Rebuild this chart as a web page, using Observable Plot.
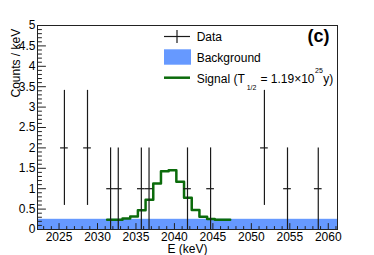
<!DOCTYPE html>
<html>
<head>
<meta charset="utf-8">
<script src="https://cdn.jsdelivr.net/npm/d3@7"></script>
<script src="https://cdn.jsdelivr.net/npm/@observablehq/plot@0.6"></script>
<style>
  html, body { margin: 0; padding: 0; background: white; }
  #chart { width: 374px; height: 255px; }
</style>
</head>
<body>
<div id="chart"></div>
<script>
// ---- data ----
const xDomain = [2022.2, 2061.2];
const yDomain = [0, 5];
const xMajorTicks = [2025, 2030, 2035, 2040, 2045, 2050, 2055, 2060];
const xMinorTicks = [2023, 2024, 2026, 2027, 2028, 2029, 2031, 2032, 2033, 2034, 2036, 2037, 2038, 2039, 2041, 2042, 2043, 2044, 2046, 2047, 2048, 2049, 2051, 2052, 2053, 2054, 2056, 2057, 2058, 2059, 2061];
const yMajorTicks = [0, 0.5, 1, 1.5, 2, 2.5, 3, 3.5, 4, 4.5, 5];
const yMinorTicks = [0.1,0.2,0.3,0.4,0.6,0.7,0.8,0.9,1.1,1.2,1.3,1.4,1.6,1.7,1.8,1.9,2.1,2.2,2.3,2.4,2.6,2.7,2.8,2.9,3.1,3.2,3.3,3.4,3.6,3.7,3.8,3.9,4.1,4.2,4.3,4.4,4.6,4.7,4.8,4.9];

// Data points (counts / keV)
const dataE      = [2025.7, 2028.7, 2031.7, 2032.7, 2035.7, 2036.7, 2041.7, 2044.7, 2051.7, 2054.7, 2058.7];
const dataCounts = [2, 2, 1, 1, 1, 1, 1, 1, 2, 1, 1];
const dataErrLo  = [1.41, 1.41, 1, 1, 1, 1, 1, 1, 1.41, 1, 1];
const dataErrHi  = [1.41, 1.41, 1, 1, 1, 1, 1, 1, 1.41, 1, 1];
const dataHalfWidth = 0.5;

// Background level
const backgroundLevel = 0.25;

// Signal histogram (bin left edges, values)
const sigEdges  = [2031.25, 2032.25, 2033.25, 2034.25, 2035.25, 2036.25, 2037.25, 2038.25, 2039.25, 2040.25, 2041.25, 2042.25, 2043.25, 2044.25, 2045.25, 2046.25, 2047.25];
const sigValues = [0.24, 0.24, 0.27, 0.32, 0.47, 0.73, 1.13, 1.43, 1.45, 1.17, 0.78, 0.48, 0.31, 0.26, 0.24, 0.24];

// Legend labels
const legendLabels = ["Data", "Background", "Signal"];

// ---- build tables ----
const points = dataE.map((e, i) => ({e, c: dataCounts[i], lo: dataCounts[i] - dataErrLo[i], hi: dataCounts[i] + dataErrHi[i]}));
const signal = sigEdges.map((x, i) => ({x, y: i < sigValues.length ? sigValues[i] : sigValues[sigValues.length - 1]}));

const blue = "#6699ff";
const green = "#0b6b0b";
const tickShape = { draw(ctx, l) { ctx.moveTo(0, 0); ctx.lineTo(0, -l); } };

const plot = Plot.plot({
  width: 374,
  height: 255,
  marginLeft: 37,
  marginRight: 37,
  marginTop: 25,
  marginBottom: 26,
  style: { fontSize: "12px", fontFamily: "'Liberation Sans', Arial, sans-serif", background: "white", color: "black" },
  x: { domain: xDomain, label: null },
  y: { domain: yDomain, label: null },
  marks: [
    Plot.rect([{x1: xDomain[0], x2: xDomain[1], y1: 0, y2: backgroundLevel}], {x1: "x1", x2: "x2", y1: "y1", y2: "y2", fill: blue}),
    Plot.line(signal, {x: "x", y: "y", curve: "step-after", stroke: green, strokeWidth: 2.5}),
    Plot.ruleX(points, {x: "e", y1: "lo", y2: "hi", stroke: "#1a1a1a", strokeWidth: 1.2}),
    Plot.ruleY(points, {y: "c", x1: d => d.e - dataHalfWidth, x2: d => d.e + dataHalfWidth, stroke: "#1a1a1a", strokeWidth: 1.2}),
    // inward ticks
    Plot.vector(xMajorTicks, {x: d => d, y: yDomain[0], length: 6, rotate: 0, anchor: "start", shape: tickShape, stroke: "#222", strokeWidth: 1}),
    Plot.vector(xMinorTicks, {x: d => d, y: yDomain[0], length: 3, rotate: 0, anchor: "start", shape: tickShape, stroke: "#222", strokeWidth: 1}),
    Plot.vector(yMajorTicks, {x: xDomain[0], y: d => d, length: 8, rotate: 90, anchor: "start", shape: tickShape, stroke: "#222", strokeWidth: 1}),
    Plot.vector(yMinorTicks, {x: xDomain[0], y: d => d, length: 4, rotate: 90, anchor: "start", shape: tickShape, stroke: "#222", strokeWidth: 1}),
    Plot.axisX({ticks: xMajorTicks, tickSize: 0, tickPadding: 3, tickFormat: d => String(d), label: null, fontSize: 12}),
    Plot.axisY({ticks: yMajorTicks, tickSize: 0, tickPadding: 2, tickFormat: d => String(d), label: null, fontSize: 12}),
    Plot.text(["E (keV)"], {frameAnchor: "bottom", dy: 23.7, lineAnchor: "bottom", fontSize: 12}),
    Plot.text(["Counts / keV"], {frameAnchor: "top-left", rotate: -90, textAnchor: "end", dx: -25.8, dy: 3.3, fontSize: 12}),
    Plot.text(["(c)"], {frameAnchor: "top-right", dx: -8, dy: 16.2, textAnchor: "end", lineAnchor: "bottom", fontWeight: "bold", fontSize: 18}),
    Plot.frame({stroke: "#222"})
  ]
});

document.getElementById("chart").appendChild(plot);

// ---- legend ----
const svg = d3.select(plot);
const lg = svg.append("g")
  .attr("font-family", "'Liberation Sans', Arial, sans-serif")
  .attr("font-size", 12)
  .attr("text-anchor", "start")
  .attr("fill", "black");
// Data
lg.append("line").attr("x1", 164).attr("x2", 190).attr("y1", 36.5).attr("y2", 36.5).attr("stroke", "#1a1a1a").attr("stroke-width", 1.2);
lg.append("line").attr("x1", 177).attr("x2", 177).attr("y1", 30).attr("y2", 43).attr("stroke", "#1a1a1a").attr("stroke-width", 1.2);
lg.append("text").attr("x", 196.7).attr("y", 40.7).attr("text-anchor", "start").text(legendLabels[0]);
// Background
lg.append("rect").attr("x", 164).attr("y", 49.3).attr("width", 27).attr("height", 15.4).attr("fill", blue);
lg.append("text").attr("x", 196.7).attr("y", 62.3).attr("text-anchor", "start").text(legendLabels[1]);
// Signal
lg.append("line").attr("x1", 164).attr("x2", 190).attr("y1", 77.7).attr("y2", 77.7).attr("stroke", green).attr("stroke-width", 2.5);
const st = lg.append("text").attr("x", 196.7).attr("y", 83).attr("text-anchor", "start");
st.append("tspan").text(legendLabels[2] + " (T");
st.append("tspan").attr("font-size", 7).attr("dx", 2).attr("dy", 7).text("1/2");
st.append("tspan").attr("font-size", 12).attr("dx", 4).attr("dy", -7).text("= 1.19×10");
st.append("tspan").attr("font-size", 7).attr("dx", 0.5).attr("dy", -10).text("25");
st.append("tspan").attr("font-size", 12).attr("dx", 0.5).attr("dy", 10).text("y)");
</script>
</body>
</html>
